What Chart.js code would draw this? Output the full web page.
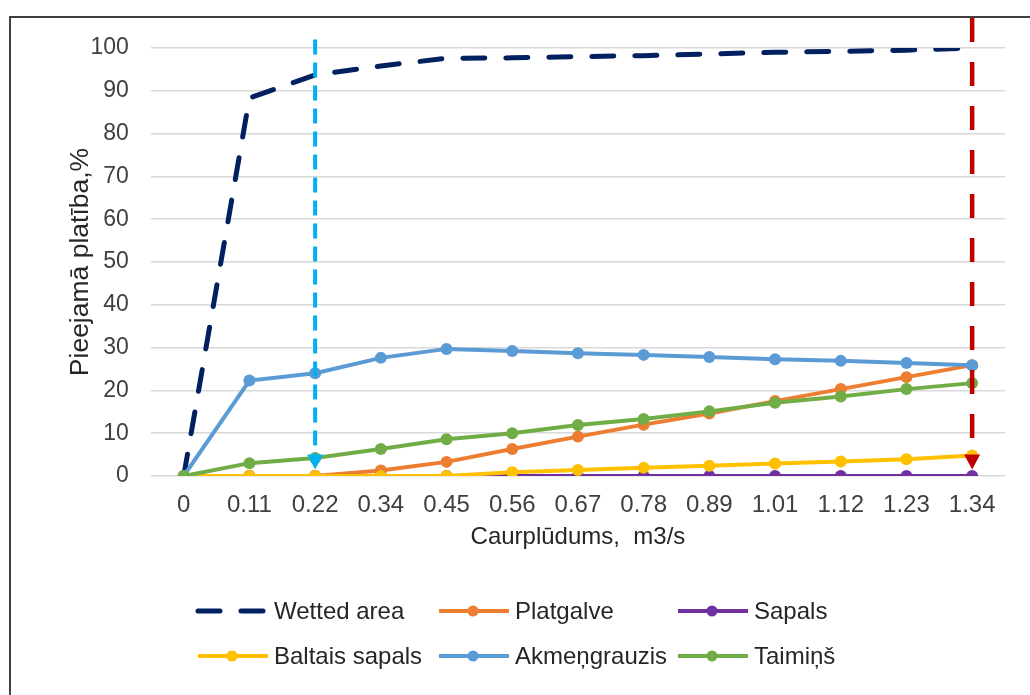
<!DOCTYPE html>
<html>
<head>
<meta charset="utf-8">
<script src="https://cdn.jsdelivr.net/npm/chart.js@4.4.1/dist/chart.umd.min.js"></script>
<style>
  body { margin: 0; background: #fff; }
  #wrap { position: relative; width: 1030px; height: 695px; }
  #frame { position: absolute; left: 9px; top: 16px; width: 1100px; height: 800px;
           border-left: 2px solid #404040; border-top: 2px solid #404040; pointer-events: none; }
</style>
</head>
<body>
<div id="wrap">
  <canvas id="myChart" width="1030" height="695"></canvas>
  <div id="frame"></div>
</div>
<script>
const labels = ['0', '0.11', '0.22', '0.34', '0.45', '0.56', '0.67', '0.78', '0.89', '1.01', '1.12', '1.23', '1.34'];

const wettedArea   = [0, 88.3, 93.7, 95.8, 97.6, 97.7, 98.0, 98.2, 98.6, 99.0, 99.2, 99.5, 100];
const platgalve    = [0, 0, 0, 1.3, 3.3, 6.3, 9.2, 12.0, 14.6, 17.5, 20.3, 23.1, 25.9];
const sapals       = [0, 0, 0, 0, 0, 0, 0, 0, 0, 0, 0, 0, 0];
const baltaisSapals = [0, 0, 0, 0, 0, 0.9, 1.4, 1.9, 2.4, 2.9, 3.4, 3.9, 4.8];
const akmengrauzis = [0, 22.3, 24.0, 27.6, 29.7, 29.2, 28.7, 28.3, 27.8, 27.3, 26.9, 26.4, 25.9];
const taimins      = [0, 3.0, 4.2, 6.3, 8.6, 10.0, 11.9, 13.3, 15.1, 17.1, 18.6, 20.3, 21.7];

// vertical marker lines: category index, top value, arrow tip value
const markerIndex = [2, 12];
const markerTop   = [102, 107];
const markerTip   = [1.5, 1.5];
const markerColor = ['#00B0F0', '#C00000'];

const font = "'Liberation Sans', Arial, sans-serif";

function series(label, data, color, order) {
    return {
        label: label,
        data: data,
        borderColor: color,
        backgroundColor: color,
        borderWidth: 4,
        pointRadius: 6,
        pointHoverRadius: 6,
        pointBorderWidth: 0,
        tension: 0,
        order: order
    };
}

const datasets = [
    {
        label: 'Wetted area',
        data: wettedArea,
        borderColor: '#002060',
        backgroundColor: '#002060',
        borderWidth: 5,
        borderDash: [22, 21],
        borderCapStyle: 'round',
        pointRadius: 0,
        tension: 0,
        order: 6
    },
    series('Platgalve', platgalve, '#ED7D31', 5),
    series('Sapals', sapals, '#7030A0', 4),
    series('Baltais sapals', baltaisSapals, '#FFC000', 3),
    series('Akmeņgrauzis', akmengrauzis, '#5B9BD5', 2),
    series('Taimiņš', taimins, '#70AD47', 1)
];

const markerPlugin = {
    id: 'markers',
    afterDatasetsDraw(chart) {
        const ctx = chart.ctx;
        const x = chart.scales.x, y = chart.scales.y;
        markerIndex.forEach((idx, i) => {
            const px = x.getPixelForValue(idx);
            const top = y.getPixelForValue(markerTop[i]);
            const tip = y.getPixelForValue(markerTip[i]);
            ctx.save();
            ctx.strokeStyle = markerColor[i];
            ctx.fillStyle = markerColor[i];
            ctx.lineWidth = i === 0 ? 4 : 4.5;
            ctx.setLineDash(i === 0 ? [15, 8] : [24, 20]);
            ctx.beginPath();
            ctx.moveTo(px, top);
            ctx.lineTo(px, tip - 12);
            ctx.stroke();
            ctx.setLineDash([]);
            ctx.beginPath();
            ctx.moveTo(px - 8, tip - 15);
            ctx.lineTo(px + 8, tip - 15);
            ctx.lineTo(px, tip);
            ctx.closePath();
            ctx.fill();
            ctx.restore();
        });
    }
};

// legend laid out as a 3 x 2 grid like the original
const legendPlugin = {
    id: 'gridLegend',
    afterDraw(chart) {
        const ctx = chart.ctx;
        const colX = [196, 437, 676];
        const rowY = [611, 656];
        chart.data.datasets.forEach((ds, i) => {
            const x0 = colX[i % 3], yy = rowY[Math.floor(i / 3)];
            ctx.save();
            ctx.strokeStyle = ds.borderColor;
            ctx.fillStyle = ds.borderColor;
            ctx.lineWidth = ds.borderWidth;
            ctx.lineCap = ds.borderDash ? 'round' : 'butt';
            ctx.setLineDash(ds.borderDash || []);
            ctx.beginPath();
            ctx.moveTo(x0 + 2, yy);
            ctx.lineTo(x0 + 72, yy);
            ctx.stroke();
            if (ds.pointRadius) {
                ctx.beginPath();
                ctx.arc(x0 + 36, yy, 5.5, 0, Math.PI * 2);
                ctx.fill();
            }
            ctx.fillStyle = '#262626';
            ctx.font = '24px ' + font;
            ctx.textBaseline = 'middle';
            ctx.fillText(ds.label, x0 + 78, yy + 1);
            ctx.restore();
        });
    }
};

new Chart(document.getElementById('myChart'), {
    type: 'line',
    data: { labels: labels, datasets: datasets },
    plugins: [markerPlugin, legendPlugin],
    options: {
        responsive: false,
        animation: false,
        layout: { padding: { left: 67, right: 25, top: 48, bottom: 146 } },
        plugins: {
            legend: { display: false },
            tooltip: { enabled: false }
        },
        scales: {
            x: {
                offset: true,
                grid: { display: false, drawTicks: false },
                border: { display: false },
                ticks: { color: '#404040', font: { family: font, size: 24, lineHeight: 1 }, padding: 17, maxRotation: 0, autoSkip: false },
                title: { display: true, text: 'Caurplūdums,  m3/s', color: '#262626', font: { family: font, size: 24, lineHeight: 1 }, padding: { top: -9, bottom: 0 } }
            },
            y: {
                min: 0,
                max: 100,
                ticks: { stepSize: 10, color: '#404040', font: { family: font, size: 23 }, padding: 22 },
                grid: { color: '#d9d9d9', lineWidth: 1.5, drawTicks: false },
                border: { display: false },
                title: { display: true, text: 'Pieejamā platība,%', color: '#262626', font: { family: font, size: 26.5, lineHeight: 1 }, padding: { top: 0, bottom: -25 } }
            }
        }
    }
});
</script>
</body>
</html>
